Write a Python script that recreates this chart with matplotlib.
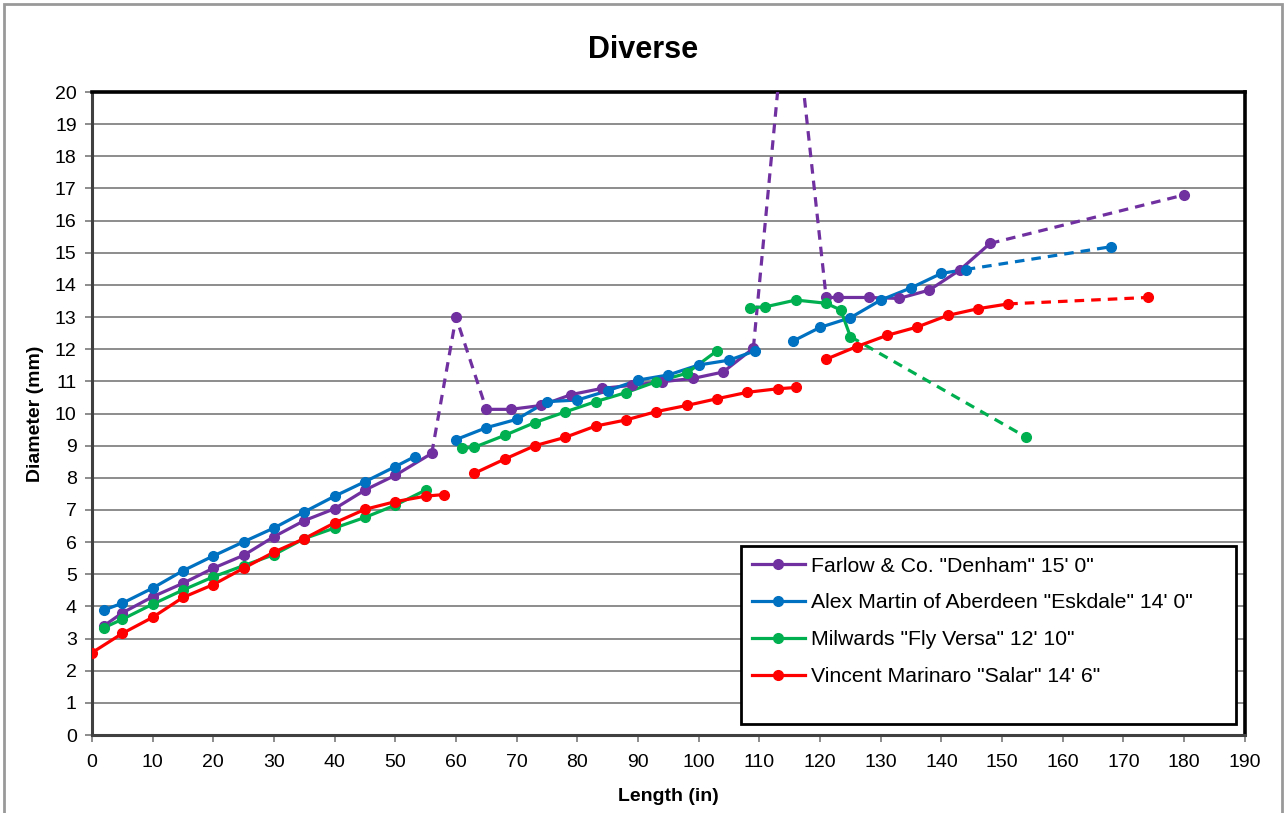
import numpy as np
import matplotlib.pyplot as plt
from matplotlib.lines import Line2D
from matplotlib.patches import Rectangle

plt.rcParams['font.family'] = ['Liberation Sans', 'DejaVu Sans']

##### data #####
labels = ['Farlow & Co. "Denham" 15\' 0"',
          'Alex Martin of Aberdeen "Eskdale" 14\' 0"',
          'Milwards "Fly Versa" 12\' 10"',
          'Vincent Marinaro "Salar" 14\' 6"']
colors = ['#7030A0', '#0070C0', '#00B050', '#FF0000']

farlow_x = [2, 5, 10, 15, 20, 25, 30, 35, 40, 45, 50, 56, 60,
            65, 69, 74, 79, 84, 89, 94, 99, 104, 109, 115,
            121, 123, 128, 133, 138, 143, 148, 180]
farlow_y = [3.4, 3.8, 4.3, 4.72, 5.19, 5.59, 6.17, 6.67, 7.04, 7.62, 8.08, 8.76, 13.0,
            10.13, 10.13, 10.25, 10.59, 10.78, 10.88, 10.99, 11.09, 11.29, 12.03, 24.0,
            13.61, 13.61, 13.61, 13.58, 13.84, 14.46, 15.29, 16.8]
# segment kinds between consecutive points: s = solid, d = dashed, - = gap
farlow_seg = 's' * 11 + 'dd' + 's' * 9 + 'dd' + 's' * 6 + 'd'

eskdale_x = [2, 5, 10, 15, 20, 25, 30, 35, 40, 45, 50, 53.2,
             60, 65, 70, 75, 80, 85, 90, 95, 100, 105, 109.3,
             115.5, 120, 125, 130, 135, 140, 144, 168]
eskdale_y = [3.89, 4.1, 4.57, 5.11, 5.57, 6.01, 6.44, 6.94, 7.43, 7.88, 8.35, 8.66,
             9.19, 9.56, 9.82, 10.37, 10.42, 10.71, 11.04, 11.2, 11.51, 11.66, 11.95,
             12.25, 12.68, 12.98, 13.53, 13.91, 14.36, 14.48, 15.19]
eskdale_seg = 's' * 11 + '-' + 's' * 10 + '-' + 's' * 6 + 'd'

versa_x = [2, 5, 10, 15, 20, 25, 30, 35, 40, 45, 50, 55,
           61, 63, 68, 73, 78, 83, 88, 93, 98, 103,
           108.5, 111, 116, 121, 123.4, 125, 154]
versa_y = [3.34, 3.6, 4.07, 4.51, 4.92, 5.27, 5.61, 6.11, 6.44, 6.77, 7.15, 7.62,
           8.92, 8.95, 9.32, 9.72, 10.05, 10.37, 10.65, 10.99, 11.25, 11.95,
           13.29, 13.32, 13.53, 13.43, 13.22, 12.39, 9.26]
versa_seg = 's' * 11 + '-' + 's' * 9 + '-' + 's' * 5 + 'd'

salar_x = [0, 5, 10, 15, 20, 25, 30, 35, 40, 45, 50, 55, 58,
           63, 68, 73, 78, 83, 88, 93, 98, 103, 108, 113, 116,
           121, 126, 131, 136, 141, 146, 151, 174]
salar_y = [2.56, 3.16, 3.66, 4.28, 4.68, 5.19, 5.69, 6.11, 6.6, 7.02, 7.26, 7.43, 7.48,
           8.14, 8.58, 9.0, 9.26, 9.61, 9.8, 10.06, 10.25, 10.46, 10.66, 10.77, 10.81,
           11.69, 12.08, 12.43, 12.69, 13.05, 13.26, 13.41, 13.61]
salar_seg = 's' * 12 + '-' + 's' * 11 + '-' + 's' * 6 + 'd'

series = [(farlow_x, farlow_y, farlow_seg),
          (eskdale_x, eskdale_y, eskdale_seg),
          (versa_x, versa_y, versa_seg),
          (salar_x, salar_y, salar_seg)]

fig = plt.figure(figsize=(12.86, 8.13), dpi=100)
ax = fig.add_axes([0.0715, 0.0959, 0.8965, 0.7909])

LW = 2.3
for (xs, ys, seg), c in zip(series, colors):
    # group consecutive segments of the same kind into runs
    i = 0
    while i < len(seg):
        k = seg[i]
        j = i
        while j < len(seg) and seg[j] == k:
            j += 1
        if k != '-':
            ls = '-' if k == 's' else (0, (3, 2.2))
            ax.plot(xs[i:j + 1], ys[i:j + 1], color=c, lw=LW, ls=ls,
                    solid_capstyle='round', zorder=3)
        i = j
    ax.plot(xs, ys, 'o', color=c, ms=7, zorder=4)

ax.set_xlim(0, 190)
ax.set_ylim(0, 20)
ax.set_xticks(np.arange(0, 191, 10))
ax.set_yticks(np.arange(0, 21, 1))
ax.yaxis.grid(True, color='#8c8c8c', lw=1.4)
ax.set_axisbelow(True)
ax.tick_params(axis='both', direction='out', length=5, width=1.4,
               color='#8c8c8c', labelsize=14, pad=6)
ax.tick_params(axis='x', pad=9)
for s in ['top', 'right']:
    ax.spines[s].set_color('black')
    ax.spines[s].set_linewidth(2.6)
for s in ['left', 'bottom']:
    ax.spines[s].set_color('#404040')
    ax.spines[s].set_linewidth(2.2)

fig.text(0.5, 0.939, 'Diverse', fontsize=22, fontweight='bold', ha='center', va='center')
ax.set_xlabel('Length (in)', fontsize=14, fontweight='bold', labelpad=12)
ax.set_ylabel('Diameter (mm)', fontsize=14, fontweight='bold', labelpad=8)

# legend box (Excel leaves extra room below the entries)
ax.add_patch(Rectangle((0.563, 0.017), 0.429, 0.277, transform=ax.transAxes,
                       facecolor='white', edgecolor='black', lw=2, zorder=5))
handles = [Line2D([0], [0], color=c, lw=LW, marker='o', ms=7) for c in colors]
leg = ax.legend(handles, labels, loc='upper left', bbox_to_anchor=(0.563, 0.294),
                fontsize=15.3, frameon=False, handlelength=2.5, handletextpad=0.3,
                labelspacing=0.84, borderpad=0.5, borderaxespad=0)
leg.set_zorder(6)

fig.patches.append(Rectangle((0.003, -0.01), 0.994, 1.005, transform=fig.transFigure,
                             fill=False, edgecolor='#999999', lw=2))

plt.savefig('out.png', dpi=100)
